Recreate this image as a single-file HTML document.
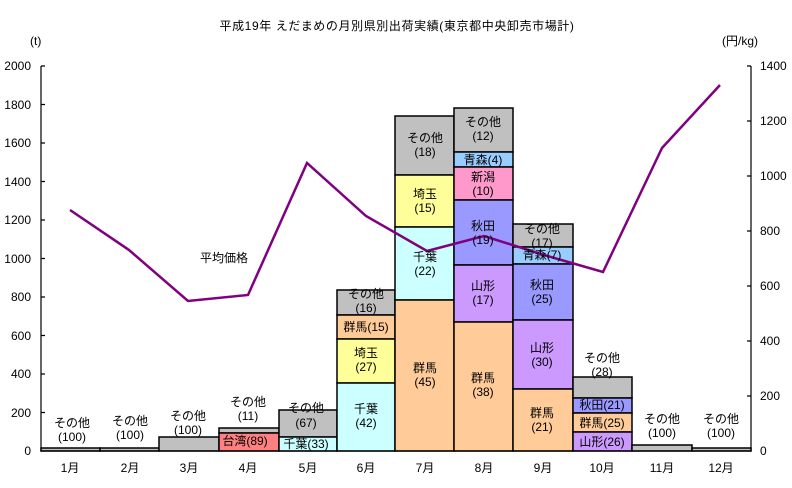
<!DOCTYPE html>
<html><head><meta charset="utf-8"><style>
body{margin:0;background:#fff}
svg{display:block}
text{font-family:"Liberation Sans","Noto Sans CJK JP",sans-serif;font-size:12px;fill:#000}
</style></head><body>
<svg width="792" height="488" viewBox="0 0 792 488">
<text x="397" y="30" text-anchor="middle" font-size="14" letter-spacing="0.6">平成19年 えだまめの月別県別出荷実績(東京都中央卸売市場計)</text>
<text x="30" y="45" font-size="10">(t)</text>
<text x="722" y="45" font-size="11">(円/kg)</text>
<g stroke="#000" stroke-width="1.5">
<rect x="41" y="448" width="59" height="3" fill="#c0c0c0"/>
<rect x="100" y="448" width="59" height="3" fill="#c0c0c0"/>
<rect x="159" y="437" width="60" height="14" fill="#c0c0c0"/>
<rect x="219" y="428" width="60" height="5" fill="#c0c0c0"/>
<rect x="219" y="433" width="60" height="18" fill="#ff8080"/>
<rect x="279" y="410" width="58" height="27" fill="#c0c0c0"/>
<rect x="279" y="437" width="58" height="14" fill="#ccffff"/>
<rect x="337" y="290" width="58" height="25" fill="#c0c0c0"/>
<rect x="337" y="315" width="58" height="24" fill="#ffcc99"/>
<rect x="337" y="339" width="58" height="44" fill="#ffff99"/>
<rect x="337" y="383" width="58" height="68" fill="#ccffff"/>
<rect x="395" y="116" width="59" height="59" fill="#c0c0c0"/>
<rect x="395" y="175" width="59" height="52" fill="#ffff99"/>
<rect x="395" y="227" width="59" height="73" fill="#ccffff"/>
<rect x="395" y="300" width="59" height="151" fill="#ffcc99"/>
<rect x="454" y="108" width="59" height="44" fill="#c0c0c0"/>
<rect x="454" y="152" width="59" height="15" fill="#99ccff"/>
<rect x="454" y="167" width="59" height="33" fill="#ff99cc"/>
<rect x="454" y="200" width="59" height="65" fill="#9999ff"/>
<rect x="454" y="265" width="59" height="57" fill="#cc99ff"/>
<rect x="454" y="322" width="59" height="129" fill="#ffcc99"/>
<rect x="513" y="224" width="60" height="23" fill="#c0c0c0"/>
<rect x="513" y="247" width="60" height="17" fill="#99ccff"/>
<rect x="513" y="264" width="60" height="56" fill="#9999ff"/>
<rect x="513" y="320" width="60" height="69" fill="#cc99ff"/>
<rect x="513" y="389" width="60" height="62" fill="#ffcc99"/>
<rect x="573" y="377" width="59" height="21" fill="#c0c0c0"/>
<rect x="573" y="398" width="59" height="15" fill="#9999ff"/>
<rect x="573" y="413" width="59" height="19" fill="#ffcc99"/>
<rect x="573" y="432" width="59" height="19" fill="#cc99ff"/>
<rect x="632" y="445" width="60" height="6" fill="#c0c0c0"/>
<rect x="692" y="448" width="59" height="3" fill="#c0c0c0"/>
</g>
<g stroke="#000" stroke-width="1.2" fill="none">
<path d="M41 66V451H751V66"/>
<path d="M41 66h4M41 104.5h4M41 143h4M41 181.5h4M41 220h4M41 258.5h4M41 297h4M41 335.5h4M41 374h4M41 412.5h4"/>
<path d="M751 66h-4M751 121h-4M751 176h-4M751 231h-4M751 286h-4M751 341h-4M751 396h-4"/>
</g>
<g text-anchor="end" font-size="11">
<text x="31" y="70">2000</text><text x="31" y="109">1800</text><text x="31" y="147">1600</text><text x="31" y="186">1400</text><text x="31" y="224">1200</text><text x="31" y="263">1000</text><text x="31" y="301">800</text><text x="31" y="340">600</text><text x="31" y="378">400</text><text x="31" y="417">200</text><text x="31" y="455">0</text>
</g>
<g font-size="11">
<text x="760" y="70">1400</text><text x="760" y="125">1200</text><text x="760" y="180">1000</text><text x="760" y="235">800</text><text x="760" y="290">600</text><text x="760" y="345">400</text><text x="760" y="400">200</text><text x="760" y="455">0</text>
</g>
<g text-anchor="middle" font-size="11">
<text x="70" y="472">1月</text><text x="130" y="472">2月</text><text x="189" y="472">3月</text><text x="248" y="472">4月</text><text x="308" y="472">5月</text><text x="366" y="472">6月</text><text x="425" y="472">7月</text><text x="484" y="472">8月</text><text x="543" y="472">9月</text><text x="602" y="472">10月</text><text x="662" y="472">11月</text><text x="721" y="472">12月</text>
</g>
<polyline points="70,210 129,250 188,301 248,295 307,163 366,216 427,251 484,236 544,255 603,272 662,148 720,85" fill="none" stroke="#800080" stroke-width="2.5"/>
<text x="200" y="262" font-size="12">平均価格</text>
<g text-anchor="middle" font-size="12">
<text x="72" y="427">その他</text><text x="72" y="441">(100)</text>
<text x="130" y="425">その他</text><text x="130" y="439">(100)</text>
<text x="188" y="420">その他</text><text x="188" y="434">(100)</text>
<text x="248" y="406">その他</text><text x="248" y="420">(11)</text>
<text x="245" y="445">台湾(89)</text>
<text x="306" y="412">その他</text><text x="306" y="427">(67)</text>
<text x="306" y="448">千葉(33)</text>
<text x="366" y="298">その他</text><text x="366" y="312">(16)</text>
<text x="366" y="331">群馬(15)</text>
<text x="366" y="357">埼玉</text><text x="366" y="371">(27)</text>
<text x="366" y="413">千葉</text><text x="366" y="427">(42)</text>
<text x="425" y="142">その他</text><text x="425" y="156">(18)</text>
<text x="425" y="198">埼玉</text><text x="425" y="212">(15)</text>
<text x="425" y="261">千葉</text><text x="425" y="275">(22)</text>
<text x="425" y="372">群馬</text><text x="425" y="386">(45)</text>
<text x="483" y="126">その他</text><text x="483" y="140">(12)</text>
<text x="483" y="164">青森(4)</text>
<text x="483" y="181">新潟</text><text x="483" y="195">(10)</text>
<text x="483" y="230">秋田</text><text x="483" y="244">(19)</text>
<text x="483" y="290">山形</text><text x="483" y="304">(17)</text>
<text x="483" y="382">群馬</text><text x="483" y="396">(38)</text>
<text x="542" y="233">その他</text><text x="542" y="247">(17)</text>
<text x="542" y="259">青森(7)</text>
<text x="542" y="289">秋田</text><text x="542" y="303">(25)</text>
<text x="542" y="352">山形</text><text x="542" y="366">(30)</text>
<text x="542" y="417">群馬</text><text x="542" y="431">(21)</text>
<text x="602" y="362">その他</text><text x="602" y="376">(28)</text>
<text x="602" y="409">秋田(21)</text>
<text x="602" y="427">群馬(25)</text>
<text x="602" y="446">山形(26)</text>
<text x="662" y="423">その他</text><text x="662" y="437">(100)</text>
<text x="721" y="423">その他</text><text x="721" y="437">(100)</text>
</g>
</svg>
</body></html>
